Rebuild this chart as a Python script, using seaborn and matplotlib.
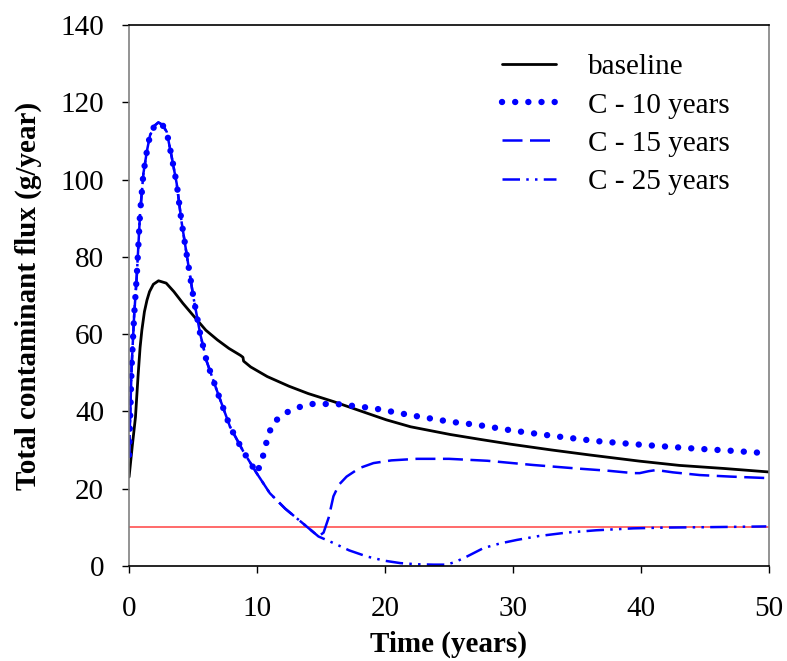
import pandas as pd
import seaborn as sns
import matplotlib.pyplot as plt

# values
t_base = [0, 0.25, 0.5, 0.7, 0.86, 1.0, 1.2, 1.4, 1.6, 1.9, 2.3, 2.9, 3.5, 4.2, 5.3, 6.0, 6.9, 7.8, 8.7, 8.9, 8.95, 9.5, 10.8, 12.5, 14.0, 16.0, 18.0, 20.1, 22.0, 25.1, 27.5, 29.8, 33.0, 36.0, 39.9, 43.0, 46.5, 50.0]
flux_base = [23.0, 31.0, 38.5, 49.0, 56.5, 61.0, 65.8, 68.8, 71.0, 72.9, 73.8, 73.2, 71.0, 68.0, 63.7, 61.0, 58.5, 56.3, 54.5, 54.0, 53.0, 51.5, 49.0, 46.5, 44.6, 42.5, 40.2, 37.8, 36.0, 34.0, 32.7, 31.5, 30.0, 28.7, 27.1, 26.0, 25.2, 24.3]

t_c10 = [0, 0.2, 0.4, 0.6, 0.86, 1.12, 1.4, 1.64, 2.0, 2.29, 2.6, 2.94, 3.33, 3.72, 4.1, 4.55, 5.02, 5.55, 6.07, 6.85, 7.89, 8.93, 9.97, 10.36, 10.88, 11.28, 12.19, 13.0, 14.14, 16.2, 19.1, 22.0, 25.1, 27.2, 30.0, 33.2, 36.5, 40.2, 44.0, 47.0, 49.2]
flux_c10 = [28.7, 51.6, 65.0, 74.9, 91.3, 101.6, 107.5, 111.5, 114.0, 114.8, 114.2, 112.4, 105.9, 99.0, 89.1, 79.6, 69.7, 60.2, 52.9, 45.5, 36.0, 29.6, 24.0, 27.0, 33.9, 37.1, 39.5, 40.8, 41.9, 41.9, 40.8, 39.0, 37.3, 36.5, 35.0, 33.6, 32.3, 31.3, 30.4, 29.8, 29.3]

t_c15 = [0, 0.2, 0.4, 0.6, 0.86, 1.12, 1.4, 1.64, 2.0, 2.29, 2.6, 2.94, 3.33, 3.72, 4.1, 4.55, 5.02, 5.55, 6.07, 6.85, 7.89, 8.93, 9.97, 11.0, 12.2, 13.4, 14.3, 14.8, 15.2, 15.6, 15.97, 16.4, 17.0, 18.0, 19.1, 20.5, 22.5, 25.0, 28.0, 31.6, 35.0, 37.5, 39.4, 39.9, 40.6, 41.2, 42.5, 44.6, 47.0, 50.0]
flux_c15 = [28.7, 51.6, 65.0, 74.9, 91.3, 101.6, 107.5, 111.5, 114.0, 114.8, 114.2, 112.4, 105.9, 99.0, 89.1, 79.6, 69.7, 60.2, 52.9, 45.5, 36.0, 29.6, 24.0, 18.8, 14.8, 11.5, 9.0, 7.6, 8.6, 12.5, 18.0, 21.0, 23.1, 25.3, 26.6, 27.3, 27.7, 27.7, 27.2, 26.1, 25.2, 24.6, 24.0, 24.0, 24.5, 24.8, 24.2, 23.5, 23.1, 22.7]

t_c25 = [0, 0.2, 0.4, 0.6, 0.86, 1.12, 1.4, 1.64, 2.0, 2.29, 2.6, 2.94, 3.33, 3.72, 4.1, 4.55, 5.02, 5.55, 6.07, 6.85, 7.89, 8.93, 9.97, 11.0, 12.2, 13.4, 14.3, 14.8, 15.97, 17.2, 18.6, 20.0, 21.2, 22.5, 23.8, 24.8, 25.5, 26.4, 27.7, 29.0, 30.3, 32.0, 34.2, 36.5, 39.4, 42.0, 45.0, 47.5, 49.8]
flux_c25 = [28.7, 51.6, 65.0, 74.9, 91.3, 101.6, 107.5, 111.5, 114.0, 114.8, 114.2, 112.4, 105.9, 99.0, 89.1, 79.6, 69.7, 60.2, 52.9, 45.5, 36.0, 29.6, 24.0, 18.8, 14.8, 11.5, 9.0, 7.6, 5.9, 4.0, 2.4, 1.3, 0.7, 0.4, 0.3, 0.3, 1.0, 2.4, 4.6, 5.8, 6.7, 7.7, 8.6, 9.2, 9.7, 9.9, 10.0, 10.1, 10.2]

target = 10

sns.set_style("ticks")
plt.rcParams['font.family'] = ['Liberation Serif', 'DejaVu Serif']
plt.rcParams['text.color'] = 'black'
plt.rcParams['axes.labelcolor'] = 'black'
plt.rcParams['xtick.color'] = 'black'
plt.rcParams['ytick.color'] = 'black'

fig, ax = plt.subplots(figsize=(7.87, 6.61), dpi=100)
fig.subplots_adjust(left=0.164, right=0.977, top=0.962, bottom=0.144)

ax.axhline(target, color='#ff5050', lw=1.2, zorder=1)
sns.lineplot(x=t_base, y=flux_base, ax=ax, color='black', lw=2.0, sort=False, label='baseline')
sns.lineplot(x=t_c10, y=flux_c10, ax=ax, color='#0000ff', lw=4.6, sort=False, label='C - 10 years',
             linestyle=(0, (0.01, 2.05)), dash_capstyle='round')
sns.lineplot(x=t_c15, y=flux_c15, ax=ax, color='#0000ff', lw=1.8, sort=False, label='C - 15 years',
             linestyle=(0, (8, 3)))
sns.lineplot(x=t_c25, y=flux_c25, ax=ax, color='#0000ff', lw=1.8, sort=False, label='C - 25 years',
             linestyle=(0, (7, 2.5, 1, 2.5, 1, 2.5)))

ax.set_xlim(0, 50)
ax.set_ylim(0, 140)
ax.set_xticks(range(0, 51, 10))
ax.set_yticks(range(0, 141, 20))
ax.tick_params(axis='both', labelsize=21, length=5, width=1, color='black', labelcolor='black')
ax.tick_params(axis='x', pad=17)
ax.tick_params(axis='y', pad=13)

for side in ['left', 'right']:
    ax.spines[side].set_color('#808080')
for side in ['top', 'bottom']:
    ax.spines[side].set_color('black')
for s in ax.spines.values():
    s.set_linewidth(1.2)

ax.set_xlabel("Time (years)", fontsize=21, fontweight='bold', labelpad=6, color='black')
ax.set_ylabel("Total contaminant flux (g/year)", fontsize=21, fontweight='bold', labelpad=13, color='black')

leg = ax.legend(loc='upper right', bbox_to_anchor=(0.98, 0.995), frameon=False, fontsize=21,
                handlelength=1.85, handletextpad=1.1, labelspacing=0.4)
for txt in leg.get_texts():
    txt.set_color('black')

plt.savefig("out.png", dpi=100)
